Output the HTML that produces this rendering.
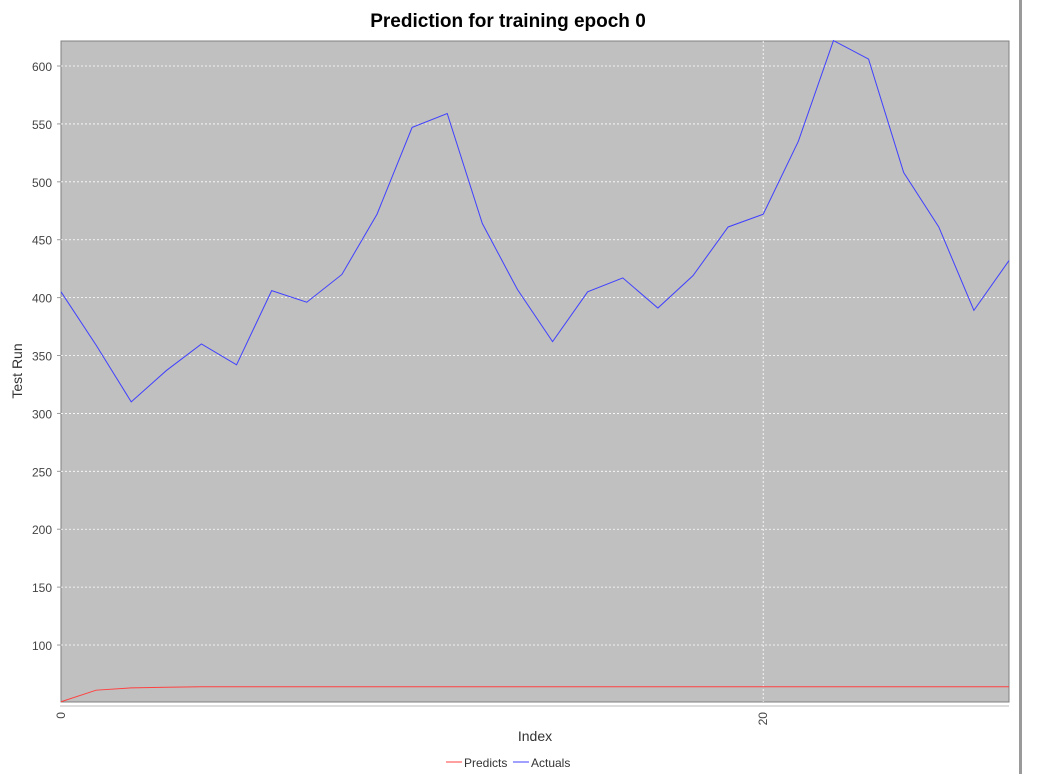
<!DOCTYPE html>
<html><head><meta charset="utf-8"><style>
body{margin:0;background:#fff;width:1040px;height:774px;overflow:hidden;font-family:"Liberation Sans",sans-serif}
svg text{font-family:"Liberation Sans","DejaVu Sans",sans-serif}
</style></head><body>
<svg id="chart" width="1040" height="774" xmlns="http://www.w3.org/2000/svg">
<rect x="1019" y="0" width="3" height="774" fill="#9a9a9a"/>
<text x="508" y="27" text-anchor="middle" font-size="19" font-weight="bold" fill="#000" font-family="DejaVu Sans">Prediction for training epoch 0</text>
<rect x="61" y="41" width="948" height="661" fill="#c0c0c0" stroke="#808080"/>
<g id="grid"></g><g id="series"></g><g id="axes"></g>
<text x="22" y="371" transform="rotate(-90 22 371)" text-anchor="middle" font-size="14" fill="#333" font-family="DejaVu Serif">Test Run</text>
<text x="535" y="741" text-anchor="middle" font-size="14" fill="#333" font-family="DejaVu Serif">Index</text>
<g>
<line x1="446" y1="762" x2="462" y2="762" stroke="#ff4040"/>
<text x="464" y="767" font-size="12" fill="#333">Predicts</text>
<line x1="513" y1="762" x2="529" y2="762" stroke="#4040ff"/>
<text x="531" y="767" font-size="12" fill="#333">Actuals</text>
</g>
</svg>
<script>
const actuals=[405,359,310,337,360,342,406,396,420,472,547,559,464,407,362,405,417,391,419,461,472,535,622,606,508,461,389,432];
const predicts=[51,61,63,63.5,64,64,64,64,64,64,64,64,64,64,64,64,64,64,64,64,64,64,64,64,64,64,64,64];
const yTicks=[100,150,200,250,300,350,400,450,500,550,600];
const xTicks=[0,20];
const X0=61,X1=1009,Y0=41,Y1=702,xMin=0,xMax=27,yMin=50.8,yMax=621.6;
const sx=v=>X0+(v-xMin)/(xMax-xMin)*(X1-X0);
const sy=v=>Y1-(v-yMin)/(yMax-yMin)*(Y1-Y0);
const NS="http://www.w3.org/2000/svg";
const mk=(t,a,p)=>{const e=document.createElementNS(NS,t);for(const k in a)e.setAttribute(k,a[k]);p.appendChild(e);return e;};
const grid=document.getElementById('grid'),axes=document.getElementById('axes'),series=document.getElementById('series');
yTicks.forEach(v=>{
 const l=mk('line',{x1:X0,x2:X1,y1:sy(v),y2:sy(v),stroke:'#fff','stroke-dasharray':'2,2','stroke-width':0.8},grid);
 
 
 const t=mk('text',{x:52,y:sy(v)+5,'text-anchor':'end','font-size':12,fill:'#444'},axes);
 t.textContent=v;
 
 
 mk('line',{x1:57,x2:61,y1:sy(v),y2:sy(v),stroke:'#999'},axes);
});
xTicks.forEach(v=>{
 if(v>0){const l=mk('line',{x1:sx(v),x2:sx(v),y1:Y0,y2:Y1,stroke:'#fff','stroke-dasharray':'2,2','stroke-width':0.8},grid);
 
 }
 const t=mk('text',{x:sx(v)+4,y:712,'text-anchor':'end','font-size':12,fill:'#444',transform:`rotate(-90 ${sx(v)+4} 712)`},axes);
 t.textContent=v;
 
 
});
mk('line',{x1:X0-1,x2:X1,y1:706,y2:706,stroke:'#bbb'},axes);
const pts=a=>a.map((v,i)=>sx(i)+','+sy(v)).join(' ');
const p1=mk('polyline',{points:pts(predicts),fill:'none',stroke:'#ff4040','stroke-width':1},series);


const p2=mk('polyline',{points:pts(actuals),fill:'none',stroke:'#4040ff','stroke-width':1},series);


</script>
</body></html>
